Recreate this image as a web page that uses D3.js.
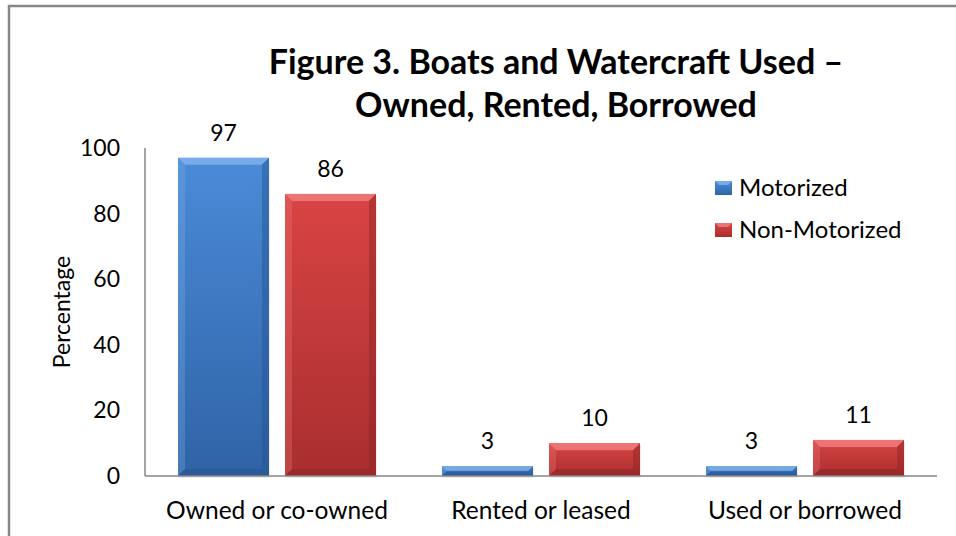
<!DOCTYPE html>
<html>
<head>
<meta charset="utf-8">
<script src="https://cdnjs.cloudflare.com/ajax/libs/d3/7.8.5/d3.min.js"></script>
<style>
  html, body { margin: 0; padding: 0; background: #fff; }
  svg { display: block; font-family: Lato, "Open Sans", sans-serif; }
</style>
</head>
<body>
<svg id="chart" width="956" height="536"></svg>
<script>
// Data
const categories = ["Owned or co-owned", "Rented or leased", "Used or borrowed"];
const seriesNames = ["Motorized", "Non-Motorized"];
const motorized = [97, 3, 3];
const nonMotorized = [86, 10, 11];
const yTicks = [0, 20, 40, 60, 80, 100];
const titleLines = ["Figure 3. Boats and Watercraft Used \u2013", "Owned, Rented, Borrowed"];
const yLabel = "Percentage";

const seriesValues = [motorized, nonMotorized];
const palette = {
  "Motorized":     { top: "#4b8bd8", bottom: "#2f63a6", light: "#7fb0ec", dark: "#24528c" },
  "Non-Motorized": { top: "#d94444", bottom: "#a92e2e", light: "#f07c7c", dark: "#8c2424" }
};

const svg = d3.select("#chart");
const plot = { left: 145, right: 937, top: 148, bottom: 476 };

// Outer frame
svg.append("path")
  .attr("d", "M9,540 L9,6 L960,6")
  .attr("fill", "none").attr("stroke", "#878787").attr("stroke-width", 2.5);

// Scales
const x0 = d3.scaleBand().domain(categories).range([plot.left, plot.right]).padding(0);
const x1 = d3.scaleBand().domain(seriesNames)
  .range([x0.bandwidth() * 0.125, x0.bandwidth() * 0.875])
  .paddingInner(0.15);
const y = d3.scaleLinear().domain([0, 100]).range([plot.bottom, plot.top]);

// Gradients
const defs = svg.append("defs");
seriesNames.forEach((s, i) => {
  const g = defs.append("linearGradient").attr("id", "grad" + i)
    .attr("x1", 0).attr("y1", 0).attr("x2", 0).attr("y2", 1);
  g.append("stop").attr("offset", "0%").attr("stop-color", palette[s].top);
  g.append("stop").attr("offset", "100%").attr("stop-color", palette[s].bottom);
});

// Bars with bevelled edges
const rows = [];
categories.forEach((c, ci) => {
  seriesNames.forEach((s, si) => {
    rows.push({ cat: c, series: s, si, value: seriesValues[si][ci] });
  });
});

const bars = svg.append("g").selectAll("g.bar").data(rows).join("g").attr("class", "bar");

bars.each(function(d) {
  const g = d3.select(this);
  const bx = x0(d.cat) + x1(d.series);
  const bw = x1.bandwidth();
  const by = y(d.value);
  const bh = y(0) - by;
  const bv = Math.min(7, bh / 2.2, bw / 4);
  const col = palette[d.series];
  // soft shadow
  g.append("rect").attr("x", bx + 1).attr("y", by + 2).attr("width", bw).attr("height", bh)
    .attr("fill", "#000").attr("opacity", 0.08);
  g.append("rect").attr("x", bx).attr("y", by).attr("width", bw).attr("height", bh)
    .attr("fill", `url(#grad${d.si})`);
  // top bevel
  g.append("polygon")
    .attr("points", [[bx, by], [bx + bw, by], [bx + bw - bv, by + bv], [bx + bv, by + bv]].join(" "))
    .attr("fill", col.light).attr("opacity", 0.85);
  // left bevel
  g.append("polygon")
    .attr("points", [[bx, by], [bx + bv, by + bv], [bx + bv, by + bh - bv], [bx, by + bh]].join(" "))
    .attr("fill", col.light).attr("opacity", 0.3);
  // right bevel
  g.append("polygon")
    .attr("points", [[bx + bw, by], [bx + bw, by + bh], [bx + bw - bv, by + bh - bv], [bx + bw - bv, by + bv]].join(" "))
    .attr("fill", col.dark).attr("opacity", 0.45);
  // bottom bevel
  g.append("polygon")
    .attr("points", [[bx, by + bh], [bx + bv, by + bh - bv], [bx + bw - bv, by + bh - bv], [bx + bw, by + bh]].join(" "))
    .attr("fill", col.dark).attr("opacity", 0.5);
  // value label
  g.append("text").attr("x", bx + bw / 2).attr("y", by - 17)
    .attr("text-anchor", "middle").attr("font-size", 23).attr("fill", "#000")
    .text(d.value);
});

// Axes lines
svg.append("line").attr("x1", plot.left).attr("x2", plot.left)
  .attr("y1", plot.top).attr("y2", plot.bottom)
  .attr("stroke", "#868686").attr("stroke-width", 1.5);
svg.append("line").attr("x1", plot.left).attr("x2", plot.right)
  .attr("y1", plot.bottom).attr("y2", plot.bottom)
  .attr("stroke", "#868686").attr("stroke-width", 1.5);

// Y tick labels
svg.append("g").selectAll("text").data(yTicks).join("text")
  .attr("x", 120).attr("y", d => y(d)).attr("dy", "0.35em")
  .attr("text-anchor", "end").attr("font-size", 23).attr("fill", "#000")
  .text(d => d);

// Category labels
svg.append("g").selectAll("text").data(categories).join("text")
  .attr("x", d => x0(d) + x0.bandwidth() / 2).attr("y", 519)
  .attr("text-anchor", "middle").attr("font-size", 24.5).attr("fill", "#000")
  .text(d => d);

// Y axis title
svg.append("text")
  .attr("transform", `translate(70, ${(plot.top + plot.bottom) / 2}) rotate(-90)`)
  .attr("text-anchor", "middle").attr("font-size", 23).attr("fill", "#000")
  .text(yLabel);

// Title
svg.append("g").selectAll("text").data(titleLines).join("text")
  .attr("x", 556).attr("y", (d, i) => 74 + i * 43)
  .attr("text-anchor", "middle").attr("font-size", 34).attr("font-weight", "bold")
  .attr("fill", "#000").text(d => d);

// Legend
const legend = svg.append("g").selectAll("g").data(seriesNames).join("g")
  .attr("transform", (d, i) => `translate(715, ${181 + i * 42})`);
legend.append("rect").attr("width", 17).attr("height", 14)
  .attr("fill", (d, i) => `url(#grad${i})`);
legend.append("polygon").attr("points", "0,0 17,0 13,4 4,4")
  .attr("fill", d => palette[d].light).attr("opacity", 0.85);
legend.append("text").attr("x", 24).attr("y", 7).attr("dy", "0.35em")
  .attr("font-size", 24).attr("fill", "#000").text(d => d);
</script>
</body>
</html>
